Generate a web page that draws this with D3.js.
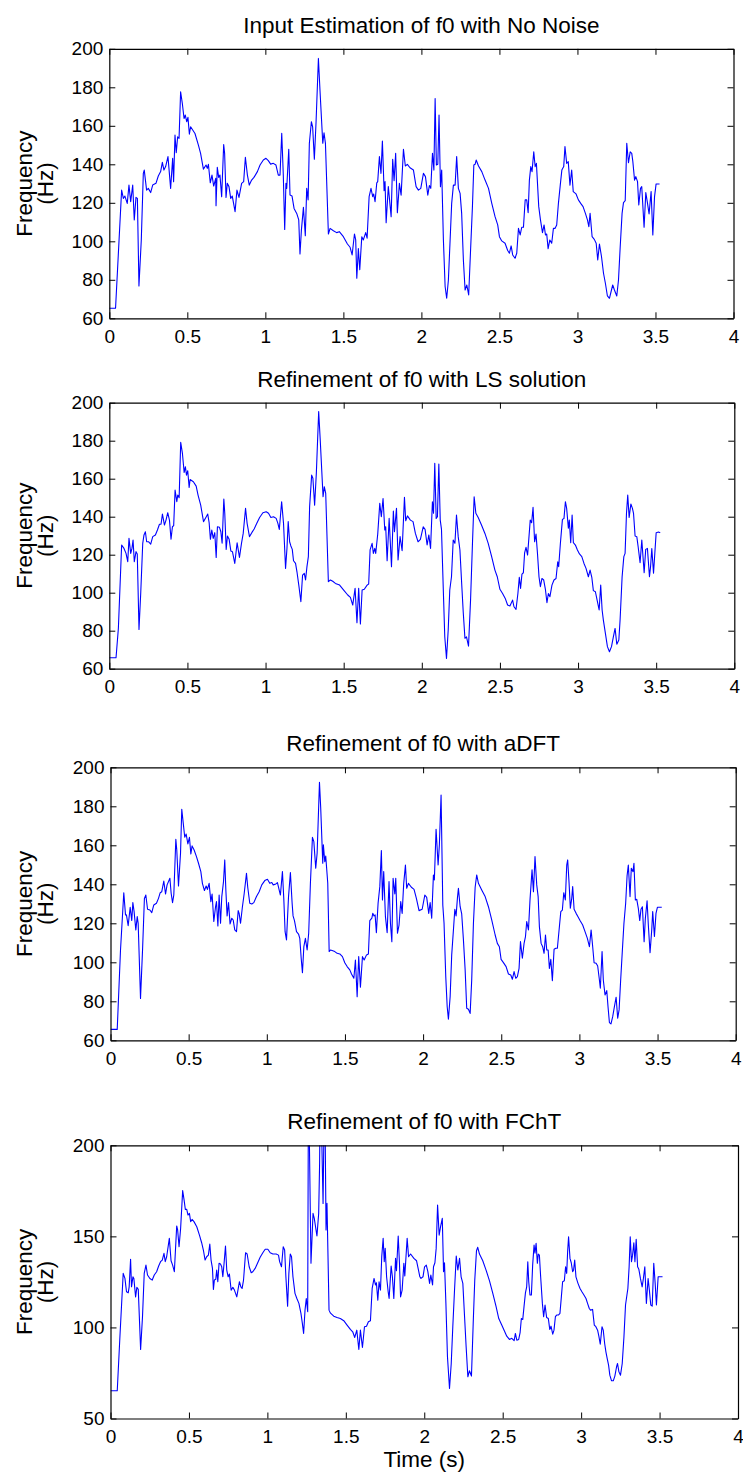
<!DOCTYPE html>
<html lang="en">
<head>
<meta charset="UTF-8">
<title>f0 estimation and refinement</title>
<script src="https://d3js.org/d3.v7.min.js"></script>
<style>
  body { margin: 0; background: #fff; }
  svg { display: block; font-family: "Liberation Sans", Arial, Helvetica, sans-serif; }
  .tick text { font-size: 19px; fill: #000; }
  .axis path, .axis line { stroke: #000; }
</style>
</head>
<body>
<svg id="chart" width="743" height="1475"></svg>
<script>
// ---- data ----
const titles = [
  "Input Estimation of f0 with No Noise",
  "Refinement of f0 with LS solution",
  "Refinement of f0 with aDFT",
  "Refinement of f0 with FChT"
];
const xTicks = [0, 0.5, 1, 1.5, 2, 2.5, 3, 3.5, 4];
const yTicksA = [60, 80, 100, 120, 140, 160, 180, 200];
const yTicksB = [50, 100, 150, 200];
const yLabel = ["Frequency", "(Hz)"];
const xLabel = "Time (s)";

// [time s, f0 Hz]
const noNoise = [[0,65.2],[0.04,65.2],[0.079,126.6],[0.09,122.3],[0.1,123.5],[0.115,119.7],[0.126,129.2],[0.137,120.6],[0.15,129.2],[0.16,111.1],[0.171,122.8],[0.18,122.3],[0.19,76.8],[0.205,100.7],[0.218,135.3],[0.224,137],[0.239,126.6],[0.25,127.5],[0.265,125.3],[0.278,129.2],[0.299,130.1],[0.314,133.9],[0.329,136.2],[0.34,141],[0.35,137],[0.361,138.8],[0.376,144],[0.393,127.5],[0.406,143.1],[0.412,131],[0.421,155.2],[0.429,146],[0.438,154.3],[0.447,153.5],[0.457,177.7],[0.468,171.6],[0.479,163.8],[0.487,165.6],[0.496,162.1],[0.504,164.4],[0.513,155.7],[0.521,159.5],[0.549,156],[0.571,150],[0.585,145.7],[0.603,137.5],[0.62,139.6],[0.628,137.9],[0.635,140],[0.647,130.4],[0.658,134.4],[0.669,128.7],[0.682,132.7],[0.684,118.5],[0.692,138.4],[0.701,133.2],[0.709,134.4],[0.72,123.2],[0.733,150.3],[0.739,145.7],[0.748,122.8],[0.756,130.1],[0.767,128.4],[0.778,122.3],[0.788,123.5],[0.806,115.4],[0.818,126.6],[0.831,122.8],[0.848,130.1],[0.861,131],[0.872,143.6],[0.885,134.4],[0.897,129.2],[0.912,131.8],[0.927,133.2],[0.949,136.2],[0.966,139.6],[0.987,142.2],[1.004,143.1],[1.019,141.9],[1.034,140.1],[1.051,140.5],[1.068,139.6],[1.083,134.4],[1.094,134.4],[1.105,156.1],[1.115,134.4],[1.124,106.2],[1.132,130.1],[1.137,127.5],[1.15,147.8],[1.158,124],[1.171,123.5],[1.184,117.1],[1.201,114.5],[1.214,111.1],[1.222,93.4],[1.231,105.8],[1.244,117.6],[1.256,102.9],[1.265,127.5],[1.274,121.5],[1.282,150.9],[1.295,162.1],[1.303,159.5],[1.314,142.6],[1.325,162.1],[1.34,195],[1.35,178.6],[1.368,150.9],[1.376,156.4],[1.385,150.9],[1.404,103.8],[1.415,106.7],[1.436,105.5],[1.457,104.5],[1.474,105],[1.5,102.4],[1.526,98.6],[1.543,96.9],[1.556,92.9],[1.571,103.8],[1.579,100.7],[1.586,80.8],[1.596,96.2],[1.605,85.3],[1.618,102.4],[1.628,100.7],[1.643,104.5],[1.652,101.6],[1.665,123.2],[1.677,127.5],[1.688,123.2],[1.694,124.6],[1.703,120.6],[1.714,130.4],[1.72,131],[1.731,144],[1.741,135.3],[1.75,152.1],[1.761,126.3],[1.767,131],[1.774,109.7],[1.788,128.4],[1.806,112.8],[1.816,142.6],[1.825,131.5],[1.835,145.7],[1.846,114.9],[1.859,130.1],[1.87,124],[1.885,147.8],[1.897,139.1],[1.91,140],[1.927,138.2],[1.949,137],[1.966,128.4],[1.981,126.6],[1.996,127.5],[2.013,135.3],[2.026,133.6],[2.041,124],[2.051,129],[2.06,127.5],[2.071,145.7],[2.08,137],[2.088,174.2],[2.096,139.6],[2.105,140],[2.113,165.6],[2.122,128.4],[2.13,137],[2.141,100.7],[2.152,76.5],[2.162,70.4],[2.173,79.9],[2.184,100.7],[2.194,119.7],[2.205,129.2],[2.216,129.2],[2.226,144],[2.237,127.5],[2.248,124.9],[2.258,114.5],[2.269,90.3],[2.28,74.7],[2.291,77.3],[2.303,72.1],[2.316,97.2],[2.327,118],[2.336,139.6],[2.344,140],[2.351,142.2],[2.366,139.1],[2.387,136.2],[2.408,131.8],[2.43,127.5],[2.451,119.7],[2.472,112.8],[2.489,108.5],[2.5,102.4],[2.515,100.2],[2.536,99],[2.553,95.2],[2.564,93.8],[2.575,97.6],[2.585,92.9],[2.6,91.2],[2.611,93.8],[2.622,106.7],[2.633,103.3],[2.643,107.3],[2.654,107.3],[2.665,121.5],[2.675,121.5],[2.684,114.9],[2.692,131.8],[2.701,138.8],[2.709,136.2],[2.72,146.5],[2.729,138.8],[2.737,140.5],[2.752,118],[2.763,111.1],[2.776,104.5],[2.786,108.5],[2.795,103.3],[2.803,103.8],[2.812,96.2],[2.823,100.7],[2.835,99],[2.846,106.7],[2.856,106.7],[2.867,108.5],[2.878,119.7],[2.891,130.1],[2.9,137],[2.912,138.8],[2.92,149.2],[2.931,140.5],[2.941,141.4],[2.952,129.2],[2.963,137],[2.973,125.8],[2.991,124.6],[3.006,121.5],[3.021,119.7],[3.036,118],[3.051,114.5],[3.064,111.1],[3.073,107.6],[3.081,114.5],[3.094,102.4],[3.108,101],[3.12,99],[3.13,90.3],[3.141,98.6],[3.154,92.1],[3.167,83.4],[3.179,78.2],[3.192,71.6],[3.205,70.4],[3.218,74.7],[3.226,77.3],[3.237,74.7],[3.252,71.6],[3.263,79.9],[3.274,97.2],[3.286,114.5],[3.295,120.1],[3.306,121.1],[3.316,150.9],[3.327,140.8],[3.338,146.5],[3.348,145.7],[3.355,141.4],[3.366,131.8],[3.374,133.6],[3.385,131],[3.393,118.9],[3.404,127.5],[3.412,128.4],[3.427,107.3],[3.438,125.3],[3.449,119.7],[3.459,114.2],[3.472,125.8],[3.483,103.3],[3.494,123.2],[3.504,129.8],[3.513,129.8],[3.526,129.8]];

const lsRefined = [[0,65.8],[0.043,65.8],[0.058,81.2],[0.079,125.1],[0.094,123.3],[0.107,120.7],[0.118,116.3],[0.126,128.6],[0.137,120.7],[0.145,123.3],[0.152,127.7],[0.16,116.3],[0.171,121.6],[0.179,120.4],[0.19,80.7],[0.201,99.6],[0.214,126],[0.222,130.4],[0.231,132.1],[0.239,126.8],[0.252,126.8],[0.265,125.6],[0.278,129.5],[0.295,130.4],[0.308,133],[0.321,136],[0.331,136],[0.34,141.4],[0.353,135.6],[0.363,138.2],[0.374,142.1],[0.385,138.2],[0.395,128.1],[0.404,134.7],[0.412,135.3],[0.421,154],[0.432,147.9],[0.438,151.4],[0.447,150],[0.457,179.1],[0.468,173.3],[0.479,163.3],[0.487,166.3],[0.494,161.9],[0.502,164.2],[0.511,155.4],[0.517,159.6],[0.538,158.4],[0.556,156.1],[0.568,151.4],[0.585,146.1],[0.603,137.4],[0.618,139.6],[0.63,141.4],[0.639,136.8],[0.647,128.1],[0.656,133],[0.665,128.6],[0.675,131.6],[0.684,118.6],[0.692,134.7],[0.705,134.4],[0.714,132.1],[0.722,126],[0.733,149.3],[0.739,141.8],[0.748,122.8],[0.756,129.8],[0.767,128.1],[0.778,121.9],[0.788,121.6],[0.803,115.4],[0.818,126.3],[0.833,118.6],[0.846,126],[0.857,131.2],[0.872,144.4],[0.882,136.5],[0.897,129.5],[0.912,131.6],[0.927,133.5],[0.944,136.5],[0.962,139.6],[0.983,142.1],[1.004,142.6],[1.019,141.8],[1.034,139.6],[1.051,140],[1.068,139.1],[1.079,136.5],[1.088,133.3],[1.103,147.9],[1.115,136.5],[1.128,112.8],[1.137,123.3],[1.145,137.4],[1.154,126.8],[1.162,124.6],[1.171,122.8],[1.179,116.8],[1.192,115.4],[1.201,111],[1.214,103.2],[1.226,95.3],[1.237,109.3],[1.248,110.2],[1.256,106.7],[1.265,113.7],[1.274,119],[1.282,145.3],[1.295,161.9],[1.303,160.2],[1.314,146.1],[1.325,162.8],[1.34,195.3],[1.35,180.4],[1.368,150.5],[1.376,155.8],[1.385,152.3],[1.402,105.8],[1.415,106.7],[1.43,106],[1.447,104.9],[1.474,104],[1.5,101.4],[1.526,98.8],[1.543,97.5],[1.558,93.5],[1.573,102.3],[1.585,84.2],[1.596,102.3],[1.607,83.5],[1.618,101.4],[1.632,101.8],[1.65,104],[1.66,104.6],[1.669,122.5],[1.682,126],[1.69,120.7],[1.699,123.3],[1.705,120.7],[1.718,130.9],[1.731,147],[1.741,140],[1.752,149.6],[1.763,133],[1.769,134.7],[1.778,116.8],[1.791,139.1],[1.806,113.7],[1.818,143],[1.825,132.1],[1.838,144.4],[1.848,117.2],[1.861,129.5],[1.874,122.1],[1.889,150.2],[1.897,137.9],[1.908,140.4],[1.927,138.2],[1.944,137.4],[1.959,131.2],[1.976,126.8],[1.991,128.1],[2.009,134.7],[2.021,133.3],[2.034,125.1],[2.045,130.4],[2.056,123.3],[2.068,147.9],[2.075,141.8],[2.083,168.1],[2.092,139.1],[2.1,140],[2.109,167.7],[2.118,138.2],[2.126,133.3],[2.137,103.2],[2.147,76.8],[2.158,65.4],[2.169,80.4],[2.179,101.4],[2.19,108.4],[2.201,127.7],[2.212,126],[2.222,140.9],[2.233,129.5],[2.244,122.5],[2.254,106.7],[2.265,90],[2.276,76],[2.286,76.8],[2.299,71.9],[2.312,96.1],[2.325,127.7],[2.335,150.5],[2.346,141.8],[2.361,139.6],[2.382,135.6],[2.404,131.2],[2.425,126],[2.447,119],[2.468,111.9],[2.483,108.4],[2.5,101.8],[2.517,99.6],[2.534,97],[2.549,93.5],[2.564,93],[2.581,96.1],[2.59,92.6],[2.603,91.2],[2.615,99.6],[2.624,108.1],[2.632,102.3],[2.641,109.8],[2.65,110.5],[2.658,121],[2.667,123.9],[2.677,119.8],[2.686,129.5],[2.694,138.2],[2.703,136.8],[2.712,144.9],[2.722,126.8],[2.731,130.9],[2.741,119.8],[2.75,108.4],[2.759,103.2],[2.769,107.5],[2.78,106.7],[2.791,101.8],[2.801,94.7],[2.81,99.6],[2.82,97.9],[2.833,104],[2.846,106.7],[2.859,107.5],[2.87,116.3],[2.876,113.7],[2.887,126],[2.9,138.6],[2.91,139.1],[2.919,147.9],[2.927,144.4],[2.938,133.9],[2.944,138.2],[2.953,126.3],[2.962,140.9],[2.97,126.3],[2.983,125.1],[2.996,122.5],[3.009,120.4],[3.024,119],[3.038,115.4],[3.051,112.8],[3.066,108.4],[3.077,111.9],[3.088,108.1],[3.098,101.1],[3.111,100.5],[3.122,96.1],[3.135,90.9],[3.145,104],[3.154,90.9],[3.162,85.6],[3.175,78.6],[3.188,71.6],[3.201,68.9],[3.214,71.6],[3.226,76.8],[3.237,81.2],[3.248,72.9],[3.261,75.1],[3.269,85.6],[3.282,108.4],[3.293,119],[3.301,120.7],[3.31,141.8],[3.318,151.4],[3.327,139.6],[3.338,146.7],[3.348,144.4],[3.355,141.8],[3.365,129.8],[3.376,129.5],[3.385,123.9],[3.397,115.8],[3.408,127.7],[3.423,110.5],[3.433,122.8],[3.444,123.3],[3.457,108.4],[3.464,113.7],[3.472,123.3],[3.483,110.2],[3.494,124.2],[3.5,131.6],[3.515,131.9],[3.526,131.6]];

const adftRefined = [[0,65.6],[0.043,65.6],[0.064,106.3],[0.085,135.7],[0.096,124.3],[0.102,124.3],[0.113,118.8],[0.126,128.2],[0.136,121.4],[0.143,130.6],[0.151,126],[0.162,116.6],[0.171,123.4],[0.177,120],[0.192,81.5],[0.205,106.3],[0.217,132.8],[0.226,134.5],[0.237,127.2],[0.252,126.8],[0.264,125.5],[0.277,129.4],[0.294,130.3],[0.307,132.8],[0.318,135.7],[0.328,136.2],[0.341,141.7],[0.352,135],[0.362,139.7],[0.38,143.1],[0.388,135.4],[0.397,130.6],[0.405,134.5],[0.418,163.1],[0.424,157.6],[0.435,139.1],[0.448,155.9],[0.456,178.5],[0.465,171.6],[0.475,164.1],[0.484,165.8],[0.495,160.7],[0.505,164.1],[0.514,155.6],[0.522,159.7],[0.535,157.6],[0.55,154.2],[0.563,150.8],[0.578,146.5],[0.588,140.5],[0.601,136.8],[0.612,139.1],[0.62,137.4],[0.631,140.5],[0.642,131.1],[0.65,135],[0.661,120.9],[0.672,128.5],[0.678,131.1],[0.687,118.6],[0.695,134.5],[0.704,120],[0.712,133.7],[0.723,141.4],[0.731,152.5],[0.738,137.1],[0.746,123.8],[0.755,130.6],[0.765,119.7],[0.776,122.6],[0.785,121.7],[0.795,116.6],[0.806,115.7],[0.817,126.5],[0.823,125.1],[0.832,120],[0.844,128.5],[0.855,135],[0.87,145.6],[0.878,138.5],[0.891,130.3],[0.904,129.9],[0.917,130.6],[0.934,133.7],[0.951,136.2],[0.968,139.7],[0.987,141.9],[1.004,142.6],[1.019,140.5],[1.032,140.9],[1.041,139.7],[1.058,140.2],[1.068,140.9],[1.079,137.1],[1.087,134.5],[1.1,146.5],[1.109,132],[1.117,115.7],[1.126,111.5],[1.139,133.7],[1.151,146],[1.162,130.3],[1.168,123.8],[1.177,121.4],[1.19,115.7],[1.203,114.5],[1.211,112.3],[1.22,102.1],[1.228,94.7],[1.237,108],[1.247,112.3],[1.258,106.3],[1.268,114.9],[1.279,140.5],[1.292,164.1],[1.301,161.9],[1.313,148.2],[1.322,155.9],[1.337,192.3],[1.345,179],[1.358,150.8],[1.362,160.2],[1.371,151.6],[1.377,154.5],[1.39,140.5],[1.399,105.5],[1.407,106.3],[1.418,106],[1.435,105.5],[1.45,104.6],[1.467,104.3],[1.484,102.9],[1.499,99.8],[1.514,97.8],[1.531,96.1],[1.542,94],[1.557,91.8],[1.567,101.2],[1.578,82.4],[1.588,102.9],[1.599,87.2],[1.612,102.9],[1.623,101.2],[1.638,103.8],[1.65,104.3],[1.659,121.4],[1.672,122.6],[1.678,125.1],[1.686,123.8],[1.693,124.3],[1.701,115.2],[1.712,130.3],[1.723,138.8],[1.733,157.3],[1.74,132],[1.748,146.5],[1.759,123.4],[1.77,115.2],[1.782,141.4],[1.791,120],[1.8,110.6],[1.808,143.1],[1.819,135],[1.825,143.1],[1.836,114.9],[1.846,119.1],[1.857,131.1],[1.866,125.1],[1.876,140.5],[1.887,149.9],[1.895,138],[1.906,140.5],[1.925,138.5],[1.942,137.4],[1.957,132.8],[1.974,126.5],[1.994,127.2],[2.011,134.5],[2.023,133.3],[2.036,125.1],[2.045,130.6],[2.055,122.6],[2.066,144.8],[2.072,142.2],[2.083,168.2],[2.096,149.9],[2.104,160.2],[2.115,185.8],[2.126,129.4],[2.134,120],[2.145,92.6],[2.154,77.3],[2.162,70.8],[2.173,82.4],[2.183,103.8],[2.194,116.6],[2.203,127.2],[2.211,123.8],[2.22,133.3],[2.226,137.9],[2.237,128.5],[2.247,124.8],[2.258,111.5],[2.269,96.1],[2.279,76.4],[2.29,75.9],[2.301,73.8],[2.311,90.9],[2.322,120],[2.333,138.5],[2.343,144.8],[2.354,140.5],[2.375,137.1],[2.397,133.7],[2.418,128.5],[2.439,121.7],[2.461,114],[2.475,109.7],[2.488,108],[2.499,101.5],[2.514,99.8],[2.531,97.8],[2.546,94],[2.561,93.5],[2.571,91.3],[2.582,95.2],[2.593,91.8],[2.603,92.6],[2.614,96.9],[2.623,110.6],[2.635,102.1],[2.646,109.7],[2.655,113.2],[2.663,120.9],[2.674,116.6],[2.684,132],[2.697,147.4],[2.706,136.2],[2.716,154.2],[2.727,139.7],[2.736,133.7],[2.744,118.3],[2.755,109.7],[2.765,108],[2.774,104.6],[2.783,114],[2.791,106.3],[2.8,106.3],[2.808,96.9],[2.817,101.5],[2.827,90.6],[2.838,106.7],[2.849,107.2],[2.859,107.2],[2.87,116.6],[2.881,126],[2.891,126.8],[2.9,135.7],[2.91,132],[2.919,149.9],[2.925,152.5],[2.934,140.5],[2.942,127.7],[2.951,132.8],[2.957,138.8],[2.966,127.2],[2.979,125.1],[2.991,123.4],[3.004,121.4],[3.021,119.1],[3.036,115.7],[3.051,112.3],[3.064,108],[3.075,116.6],[3.085,108],[3.094,99.8],[3.107,99.5],[3.117,98.1],[3.128,90.9],[3.134,86.7],[3.145,105.5],[3.153,90.9],[3.164,83.2],[3.175,85.5],[3.183,77.3],[3.192,69.1],[3.202,68.4],[3.213,72.1],[3.224,77.3],[3.235,82.1],[3.245,71.3],[3.254,75.6],[3.264,90.9],[3.275,106.3],[3.285,120],[3.296,130.3],[3.305,144.3],[3.313,149.9],[3.324,133.7],[3.332,148.2],[3.343,146.5],[3.349,150.8],[3.358,132],[3.367,132.3],[3.377,127.7],[3.386,121.4],[3.394,127.2],[3.403,128.5],[3.414,110.6],[3.422,122.6],[3.433,131.6],[3.441,119.1],[3.452,104.9],[3.463,116.9],[3.469,126],[3.48,113.2],[3.49,125.1],[3.499,128.2],[3.512,128.2],[3.527,128.2]];

const fchtRefined = [[0,65.2],[0.043,65.2],[0.06,94.9],[0.081,129.7],[0.092,126.9],[0.102,119.6],[0.113,119],[0.119,122.3],[0.128,137.4],[0.134,122.3],[0.143,127.8],[0.149,126.9],[0.16,116.8],[0.168,122],[0.177,120.9],[0.192,87.9],[0.204,105.9],[0.215,129.7],[0.226,134.2],[0.236,128.8],[0.251,126.9],[0.266,126],[0.279,128.8],[0.294,130.6],[0.307,133.7],[0.319,136.1],[0.33,137],[0.341,140.7],[0.349,136.1],[0.358,138.8],[0.375,148.9],[0.386,136.6],[0.396,134.2],[0.407,130.6],[0.422,155.7],[0.428,153.5],[0.437,144.3],[0.447,154.4],[0.46,175.1],[0.469,170],[0.477,164.8],[0.486,164.8],[0.494,161.7],[0.503,162.6],[0.511,158.1],[0.52,159.3],[0.532,158.1],[0.55,155.3],[0.567,150.7],[0.581,146.5],[0.592,142.5],[0.603,137],[0.613,138.8],[0.624,139.7],[0.633,145.8],[0.641,137],[0.65,132.4],[0.656,120.9],[0.662,126],[0.671,126.4],[0.677,131.5],[0.684,125.1],[0.692,135.2],[0.701,134.8],[0.709,133.3],[0.716,127.8],[0.724,135.2],[0.733,144.7],[0.741,131.5],[0.75,127.8],[0.758,129.3],[0.769,120.5],[0.78,122],[0.79,120.5],[0.805,116.8],[0.816,122.3],[0.822,125.1],[0.831,122.3],[0.839,121.4],[0.848,126],[0.861,141],[0.871,140.3],[0.884,133.3],[0.897,130],[0.907,130.6],[0.922,132.4],[0.937,135.2],[0.954,138.5],[0.971,141],[0.986,142.9],[1.003,142.9],[1.018,141],[1.035,140.3],[1.056,140.3],[1.071,139.7],[1.078,136.1],[1.09,133.3],[1.101,144.3],[1.11,142.5],[1.118,127.8],[1.129,111.7],[1.137,129.7],[1.146,140.3],[1.154,138.8],[1.163,127.8],[1.176,118.7],[1.188,115.9],[1.201,113.2],[1.214,107.7],[1.223,102.2],[1.231,96.7],[1.24,109.5],[1.248,115.9],[1.257,108.6],[1.262,240],[1.278,135.2],[1.291,162.6],[1.299,159.9],[1.316,150.2],[1.327,162.6],[1.333,190.1],[1.338,240],[1.355,168.1],[1.365,240],[1.374,153.5],[1.38,168.1],[1.393,109.5],[1.401,108],[1.423,106.2],[1.444,105.5],[1.465,104.9],[1.487,103.7],[1.508,101.3],[1.529,98.9],[1.544,97.6],[1.557,94.5],[1.57,98.5],[1.583,87.9],[1.593,98.5],[1.606,89],[1.619,100.4],[1.632,100.7],[1.644,103.1],[1.657,103.7],[1.668,121.4],[1.68,126.9],[1.689,123.3],[1.695,124.5],[1.704,115],[1.712,125.1],[1.721,120.5],[1.729,138.8],[1.738,148.9],[1.745,136.1],[1.751,143.4],[1.76,127.8],[1.77,119.6],[1.776,115.9],[1.789,133.7],[1.797,127.8],[1.806,115.9],[1.817,137.9],[1.823,131.1],[1.834,150.2],[1.842,135.2],[1.849,116.8],[1.859,120.5],[1.87,135.2],[1.876,128.2],[1.891,148.9],[1.9,138.8],[1.913,140.3],[1.934,137.9],[1.951,136.6],[1.972,127.8],[1.979,126.9],[1.992,127.8],[2.002,133.3],[2.013,134.2],[2.023,130.6],[2.034,124.2],[2.042,128.8],[2.053,123.3],[2.059,133.3],[2.068,135.5],[2.076,143.4],[2.085,167.2],[2.095,150.7],[2.104,155.3],[2.115,159.9],[2.123,130.6],[2.129,135.5],[2.138,113.2],[2.148,83.9],[2.161,66.5],[2.172,80.2],[2.182,100.4],[2.193,120.5],[2.204,139.2],[2.214,131.5],[2.225,137.9],[2.235,127.8],[2.246,124.2],[2.257,105.9],[2.267,89.4],[2.278,72.9],[2.288,76.2],[2.301,73.3],[2.312,102.2],[2.322,126],[2.333,142.1],[2.341,144],[2.352,140.3],[2.373,136.6],[2.394,131.5],[2.416,125.6],[2.437,118.7],[2.458,111.4],[2.475,104.9],[2.494,101.3],[2.509,98.5],[2.526,95.2],[2.543,93.4],[2.558,94],[2.573,92.7],[2.581,96.7],[2.59,93],[2.602,93.4],[2.611,97.1],[2.619,104.9],[2.628,104.4],[2.636,111.4],[2.645,119],[2.653,122.3],[2.66,136.1],[2.666,125.1],[2.674,117.8],[2.683,117.8],[2.691,134.2],[2.7,145.2],[2.706,140.7],[2.713,146.2],[2.721,135.2],[2.727,140.3],[2.734,139.7],[2.742,127.8],[2.753,113.2],[2.761,105.9],[2.77,112.3],[2.78,105.5],[2.791,104.9],[2.8,98.9],[2.808,100.7],[2.819,96.3],[2.827,98.5],[2.836,105.9],[2.844,106.8],[2.855,106.8],[2.865,107.7],[2.874,116.8],[2.882,125.1],[2.893,125.6],[2.901,133.3],[2.908,129.7],[2.914,141.6],[2.92,149.8],[2.929,137.9],[2.937,135.5],[2.946,130.6],[2.952,131.5],[2.959,137],[2.967,127.8],[2.98,124.2],[2.993,121.4],[3.005,119.6],[3.018,117.8],[3.031,115.9],[3.041,113.2],[3.052,110.4],[3.06,109.5],[3.073,109.9],[3.084,101.3],[3.094,100.4],[3.105,98.5],[3.113,95.2],[3.122,90.8],[3.133,100.4],[3.141,98.5],[3.15,91.2],[3.158,86.6],[3.166,83],[3.175,79.3],[3.183,73.8],[3.194,70.7],[3.205,70.7],[3.215,73.3],[3.226,78.4],[3.232,80.2],[3.241,75.6],[3.251,73.8],[3.262,80.2],[3.273,94.9],[3.283,112.3],[3.292,117.8],[3.298,121.4],[3.306,133.3],[3.313,149.8],[3.321,136.1],[3.328,139.7],[3.336,146.5],[3.343,136.1],[3.351,148.4],[3.36,133.3],[3.368,131.9],[3.378,126.9],[3.389,122.3],[3.397,126.9],[3.406,133.3],[3.416,113.2],[3.427,126.9],[3.435,120.5],[3.444,112.3],[3.453,111.7],[3.463,135.2],[3.472,124.2],[3.48,112.3],[3.491,127.8],[3.502,127.8],[3.519,127.8]];

const series = [noNoise, lsRefined, adftRefined, fchtRefined];
const yDomains = [[60, 200], [60, 200], [60, 200], [50, 200]];
const yTickSets = [yTicksA, yTicksA, yTicksA, yTicksB];

// ---- layout (pixel boxes of the four axes) ----
const panels = [
  { left: 109.3, right: 733.5, top: 48.8, bottom: 318.3 },
  { left: 109.3, right: 734.3, top: 402.7, bottom: 668.7 },
  { left: 110.5, right: 735.7, top: 767.3, bottom: 1040.3 },
  { left: 110.5, right: 738.0, top: 1145.3, bottom: 1418.5 }
];

const svg = d3.select("#chart");
const tickLen = 6;
const labelSize = 22.5;

panels.forEach((p, i) => {
  const w = p.right - p.left;
  const h = p.bottom - p.top;
  const x = d3.scaleLinear().domain([0, 4]).range([0, w]);
  const y = d3.scaleLinear().domain(yDomains[i]).range([h, 0]);

  const g = svg.append("g").attr("transform", `translate(${p.left},${p.top})`);

  g.append("clipPath").attr("id", "clip" + i)
    .append("rect").attr("width", w).attr("height", h);

  const line = d3.line().x(d => x(d[0])).y(d => y(d[1]));
  g.append("path")
    .datum(series[i])
    .attr("clip-path", `url(#clip${i})`)
    .attr("fill", "none")
    .attr("stroke", "#0000ff")
    .attr("stroke-width", 1.1)
    .attr("stroke-linejoin", "round")
    .attr("d", line);

  // axes, ticks pointing inwards on all four sides
  g.append("g").attr("class", "axis")
    .attr("transform", `translate(0,${h})`)
    .call(d3.axisBottom(x).tickValues(xTicks).tickFormat(d => d)
      .tickSizeInner(-tickLen).tickSizeOuter(0).tickPadding(11));
  g.append("g").attr("class", "axis")
    .call(d3.axisTop(x).tickValues(xTicks).tickFormat("")
      .tickSizeInner(-tickLen).tickSizeOuter(0));
  g.append("g").attr("class", "axis")
    .call(d3.axisLeft(y).tickValues(yTickSets[i]).tickFormat(d => d)
      .tickSizeInner(-tickLen).tickSizeOuter(0).tickPadding(6));
  g.append("g").attr("class", "axis")
    .attr("transform", `translate(${w},0)`)
    .call(d3.axisRight(y).tickValues(yTickSets[i]).tickFormat("")
      .tickSizeInner(-tickLen).tickSizeOuter(0));

  g.selectAll(".axis path.domain").attr("stroke-width", 1.2);

  // title
  g.append("text")
    .attr("x", w / 2).attr("y", -16)
    .attr("text-anchor", "middle")
    .attr("font-size", labelSize)
    .text(titles[i]);

  // y label on two lines
  const cy = h / 2;
  yLabel.forEach((s, k) => {
    g.append("text")
      .attr("transform", `translate(${[32, 53][k] - p.left},${cy}) rotate(-90)`)
      .attr("text-anchor", "middle")
      .attr("font-size", labelSize)
      .text(s);
  });

  if (i === panels.length - 1) {
    g.append("text")
      .attr("x", w / 2).attr("y", h + 49)
      .attr("text-anchor", "middle")
      .attr("font-size", labelSize)
      .text(xLabel);
  }
});
</script>
</body>
</html>
